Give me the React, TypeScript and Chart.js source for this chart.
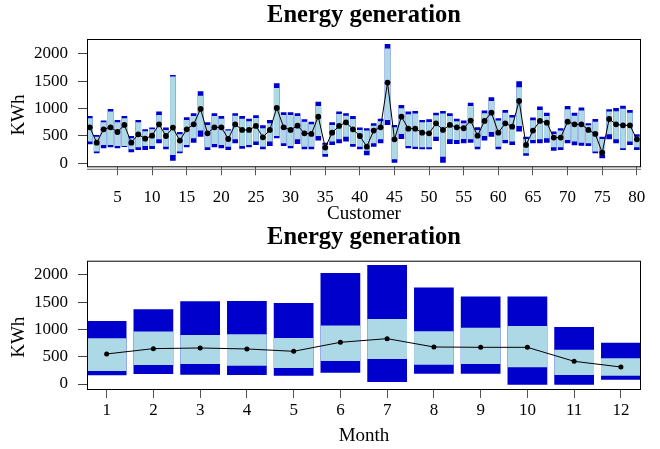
import React, { useEffect, useRef } from 'react';
import { Chart, registerables } from 'chart.js';

Chart.register(...registerables);

const FONT = "'Liberation Serif', 'Times New Roman', serif";

// ---------- Top panel: per customer ----------
const customers = [
  1, 2, 3, 4, 5, 6, 7, 8, 9, 10, 11, 12, 13, 14, 15, 16, 17, 18, 19, 20,
  21, 22, 23, 24, 25, 26, 27, 28, 29, 30, 31, 32, 33, 34, 35, 36, 37, 38, 39, 40,
  41, 42, 43, 44, 45, 46, 47, 48, 49, 50, 51, 52, 53, 54, 55, 56, 57, 58, 59, 60,
  61, 62, 63, 64, 65, 66, 67, 68, 69, 70, 71, 72, 73, 74, 75, 76, 77, 78, 79, 80,
];
const custMax = [
  866, 519, 781, 994, 793, 866, 500, 793, 622, 653, 946, 653, 1617, 573, 842, 915, 1318, 750, 915, 866,
  622, 915, 866, 817, 878, 695, 793, 1464, 933, 933, 915, 805, 762, 1128, 378, 750, 946, 915, 866, 653,
  640, 732, 817, 2184, 702, 1068, 946, 958, 793, 805, 927, 958, 915, 817, 781, 1110, 659, 964, 1208, 824,
  976, 885, 1500, 488, 836, 1037, 927, 580, 641, 1049, 927, 1019, 732, 811, 488, 988, 1013, 1055, 976, 531,
];
const custHi = [
  824, 488, 750, 946, 750, 824, 458, 750, 586, 622, 885, 610, 1586, 531, 793, 866, 1238, 702, 866, 817,
  600, 872, 817, 769, 830, 640, 732, 1379, 885, 885, 866, 762, 714, 1049, 340, 702, 903, 872, 811, 610,
  598, 689, 769, 2098, 659, 1007, 897, 909, 750, 756, 878, 909, 866, 769, 732, 1049, 610, 915, 1141, 781,
  927, 836, 1391, 445, 787, 976, 866, 537, 598, 988, 872, 964, 695, 762, 445, 946, 952, 1000, 927, 488,
];
const custLo = [
  397, 214, 336, 336, 317, 317, 256, 293, 317, 317, 439, 305, 152, 214, 336, 458, 598, 293, 354, 336,
  305, 439, 317, 336, 397, 305, 397, 500, 366, 317, 439, 305, 305, 500, 171, 397, 439, 488, 354, 305,
  232, 366, 439, 793, 73, 537, 317, 305, 293, 293, 488, 122, 439, 427, 445, 439, 305, 500, 573, 305,
  427, 397, 683, 183, 427, 439, 458, 293, 293, 427, 397, 378, 366, 214, 152, 531, 439, 275, 397, 293,
];
const custMin = [
  348, 183, 275, 293, 275, 300, 201, 244, 244, 262, 366, 256, 49, 183, 293, 378, 488, 244, 293, 275,
  244, 366, 268, 293, 336, 256, 317, 458, 317, 275, 354, 256, 256, 415, 122, 336, 366, 397, 305, 256,
  146, 305, 366, 702, 12, 445, 275, 262, 256, 256, 409, 0, 354, 354, 366, 378, 256, 415, 488, 256,
  366, 336, 580, 140, 366, 366, 378, 232, 244, 366, 329, 323, 317, 183, 92, 439, 366, 244, 336, 244,
];
const custMean = [
  659, 378, 622, 659, 573, 702, 378, 531, 451, 506, 714, 500, 653, 415, 622, 714, 994, 549, 659, 659,
  445, 714, 610, 610, 683, 476, 610, 1013, 659, 610, 689, 549, 537, 854, 287, 561, 683, 750, 622, 500,
  305, 598, 659, 1476, 439, 854, 634, 634, 561, 549, 732, 610, 702, 659, 641, 781, 506, 775, 927, 561,
  732, 671, 1141, 336, 598, 775, 744, 470, 470, 762, 714, 714, 610, 537, 195, 811, 714, 695, 695, 439,
];
const customerTicks = [5, 10, 15, 20, 25, 30, 35, 40, 45, 50, 55, 60, 65, 70, 75, 80];

// ---------- Bottom panel: per month ----------
const months = [1, 2, 3, 4, 5, 6, 7, 8, 9, 10, 11, 12];
const monthMax = [1157, 1371, 1518, 1524, 1487, 2038, 2185, 1769, 1603, 1603, 1047, 759];
const monthHi = [838, 961, 900, 912, 845, 1071, 1193, 967, 1034, 1065, 630, 471];
const monthLo = [239, 349, 367, 337, 294, 422, 459, 355, 367, 306, 165, 153];
const monthMin = [160, 184, 171, 165, 153, 208, 37, 190, 190, -12, -12, 80];
const monthMean = [551, 649, 661, 643, 600, 765, 832, 679, 673, 673, 416, 312];
const monthTicks = [1, 2, 3, 4, 5, 6, 7, 8, 9, 10, 11, 12];

const yTicks = [0, 500, 1000, 1500, 2000];

const DARK = '#0000CD';
const LIGHT = '#ADD8E6';

const framePlugin = {
  id: 'frame',
  afterDraw(chart: any, _args: any, opts: any) {
    const { ctx, chartArea: a } = chart;
    ctx.save();
    if (opts && opts.axisLine) {
      ctx.strokeStyle = '#666';
      ctx.lineWidth = 1;
      ctx.beginPath();
      ctx.moveTo(a.left, a.bottom + 2);
      ctx.lineTo(a.right, a.bottom + 2);
      ctx.stroke();
    }
    ctx.strokeStyle = '#000';
    ctx.lineWidth = 1;
    ctx.strokeRect(a.left + 0.5, a.top + 0.5, a.right - a.left - 1, a.bottom - a.top - 1);
    ctx.restore();
  },
};

function buildConfig(p: any) {
  const font = { family: FONT, size: 17 };
  const titleFont = { family: FONT, size: 19 };
  const ranged = (a: number[], b: number[]) => p.cats.map((c: number, i: number) => ({ x: c, y: [a[i], b[i]] }));
  return {
    type: 'bar',
    data: {
      datasets: [
        {
          type: 'line',
          data: p.cats.map((c: number, i: number) => ({ x: c, y: p.mean[i] })),
          borderColor: '#000',
          borderWidth: 1,
          pointRadius: p.r,
          pointBackgroundColor: '#000',
          pointBorderColor: '#000',
          pointBorderWidth: 0,
          tension: 0,
          order: 0,
        },
        {
          data: ranged(p.lo, p.hi),
          backgroundColor: LIGHT,
          borderWidth: 0,
          grouped: false,
          barPercentage: p.bp,
          categoryPercentage: 1,
          order: 1,
        },
        {
          data: ranged(p.min, p.max),
          backgroundColor: DARK,
          borderWidth: 0,
          grouped: false,
          barPercentage: p.bp,
          categoryPercentage: 1,
          order: 2,
        },
      ],
    },
    options: {
      responsive: false,
      animation: false,
      events: [],
      layout: { padding: { left: 0, right: 19, top: 0, bottom: 0 } },
      plugins: {
        legend: { display: false },
        tooltip: { enabled: false },
        frame: { axisLine: p.axisLine },
        title: {
          display: true,
          text: 'Energy generation',
          fullSize: false,
          color: '#000',
          font: { family: FONT, size: 24.5, weight: 'bold' },
          padding: { top: p.tTop, bottom: p.tBottom },
        },
      },
      scales: {
        x: {
          type: 'linear',
          offset: false,
          min: p.xmin,
          max: p.xmax,
          afterBuildTicks: (s: any) => {
            s.ticks = p.xTicks.map((v: number) => ({ value: v }));
          },
          afterFit: (s: any) => {
            s.height = p.xh;
          },
          grid: { display: true, offset: false, drawOnChartArea: false, drawTicks: true, tickLength: 8, color: '#555' },
          border: { display: false },
          ticks: {
            autoSkip: false,
            maxRotation: 0,
            padding: p.xpad,
            color: '#000',
            font,
            callback: (v: any) => String(v),
          },
          title: { display: true, text: p.xTitle, color: '#000', font: titleFont, padding: { top: 0, bottom: p.xtb } },
        },
        y: {
          type: 'linear',
          min: p.ymin,
          max: p.ymax,
          afterBuildTicks: (s: any) => {
            s.ticks = yTicks.map((v) => ({ value: v }));
          },
          afterFit: (s: any) => {
            s.width = 87;
          },
          grid: { display: true, drawOnChartArea: false, drawTicks: true, tickLength: 9, color: '#444' },
          border: { display: false },
          ticks: { padding: 10, color: '#000', font, callback: (v: any) => String(v) },
          title: { display: true, text: 'KWh     ', color: '#000', font: titleFont, padding: { top: 8, bottom: 0 } },
        },
      },
    },
    plugins: [framePlugin],
  };
}

export default function App() {
  const topRef = useRef<HTMLCanvasElement | null>(null);
  const botRef = useRef<HTMLCanvasElement | null>(null);

  useEffect(() => {
    const c1 = new Chart(topRef.current as any, buildConfig({
      cats: customers, min: custMin, lo: custLo, hi: custHi, max: custMax, mean: custMean,
      xTicks: customerTicks, xTitle: 'Customer', xmin: 0.6, xmax: 80.6, ymin: -73, ymax: 2274,
      bp: 0.82, r: 2.9, tTop: 1, tBottom: 8.6, xh: 57.7, xpad: 12, xtb: 0, axisLine: true,
    }) as any);
    const c2 = new Chart(botRef.current as any, buildConfig({
      cats: months, min: monthMin, lo: monthLo, hi: monthHi, max: monthMax, mean: monthMean,
      xTicks: monthTicks, xTitle: 'Month', xmin: 0.58, xmax: 12.43, ymin: -110, ymax: 2262,
      bp: 0.85, r: 2.5, tTop: -2, tBottom: 8.3, xh: 59, xpad: 2.5, xtb: 1.2, axisLine: false,
    }) as any);
    return () => {
      c1.destroy();
      c2.destroy();
    };
  }, []);

  return (
    <div style={{ position: 'absolute', left: 0, top: 0, width: 660, height: 449, background: '#fff' }}>
      <canvas ref={topRef} width={660} height={225} style={{ display: 'block', width: 660, height: 225 }} />
      <canvas ref={botRef} width={660} height={224} style={{ display: 'block', width: 660, height: 224 }} />
    </div>
  );
}
